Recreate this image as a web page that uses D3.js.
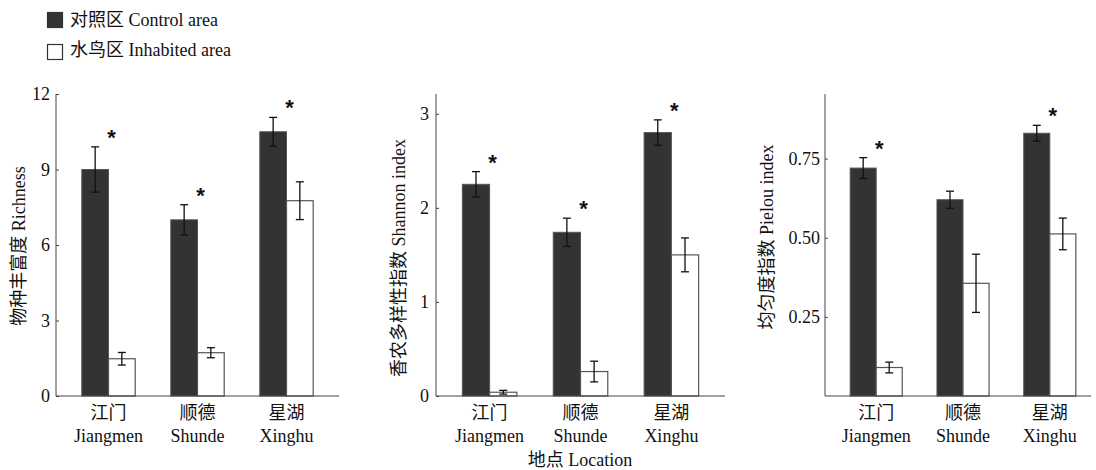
<!DOCTYPE html>
<html>
<head>
<meta charset="utf-8">
<script src="https://cdn.jsdelivr.net/npm/d3@7"></script>
<style>
  body { margin: 0; background: #fff; }
  svg text { font-family: "Liberation Serif", "Noto Sans CJK SC", serif; fill: #111; }
</style>
</head>
<body>
<svg id="chart" width="1096" height="470"></svg>
<script>
// sites
var sitesZh = ["江门", "顺德", "星湖"];
var sitesEn = ["Jiangmen", "Shunde", "Xinghu"];

// richness
var richControl = [9.0, 7.0, 10.5];
var richControlErr = [0.9, 0.6, 0.57];
var richInhab = [1.48, 1.72, 7.76];
var richInhabErr = [0.25, 0.2, 0.75];
var richSig = [true, true, true];
var richTicks = [0, 3, 6, 9, 12];

// shannon
var shanControl = [2.25, 1.74, 2.8];
var shanControlErr = [0.135, 0.15, 0.135];
var shanInhab = [0.04, 0.26, 1.5];
var shanInhabErr = [0.02, 0.11, 0.18];
var shanSig = [true, true, true];
var shanTicks = [0, 1, 2, 3];

// pielou
var pielControl = [0.72, 0.62, 0.83];
var pielControlErr = [0.033, 0.027, 0.025];
var pielInhab = [0.09, 0.356, 0.512];
var pielInhabErr = [0.017, 0.092, 0.05];
var pielSig = [true, false, true];
var pielTicks = [0.25, 0.5, 0.75];

var legendLabels = ["对照区 Control area", "水鸟区 Inhabited area"];
var xTitle = "地点 Location";

var DARK = "#323432";
var FS = 18;
var plotTop = 94, plotBottom = 396;

var panels = [
  {ctl: richControl, ctlErr: richControlErr, inh: richInhab, inhErr: richInhabErr, sig: richSig,
   ticks: richTicks, fmt: d3.format("d"), yMax: 12, x0: 56, x1: 339, xEnd: 339,
   title: "物种丰富度 Richness", titleX: 19, titleY: 246, pad: 6},
  {ctl: shanControl, ctlErr: shanControlErr, inh: shanInhab, inhErr: shanInhabErr, sig: shanSig,
   ticks: shanTicks, fmt: d3.format("d"), yMax: 3.21, x0: 436, x1: 725, xEnd: 725,
   title: "香农多样性指数 Shannon index", titleX: 399, titleY: 258, pad: 7},
  {ctl: pielControl, ctlErr: pielControlErr, inh: pielInhab, inhErr: pielInhabErr, sig: pielSig,
   ticks: pielTicks, fmt: d3.format(".2f"), yMax: 0.954, x0: 825, x1: 1101, xEnd: 1091,
   title: "均匀度指数 Pielou index", titleX: 767, titleY: 237, pad: 5}
];

var svg = d3.select("#chart");

panels.forEach(function(p) {
  var g = svg.append("g");
  var x = d3.scaleBand().domain(sitesEn).range([p.x0, p.x1])
      .paddingInner(0.4).paddingOuter(0.29);
  var y = d3.scaleLinear().domain([0, p.yMax]).range([plotBottom, plotTop]);
  var bw = x.bandwidth() / 2;

  var rows = sitesEn.map(function(s, i) {
    return {site: s, ctl: p.ctl[i], ctlErr: p.ctlErr[i], inh: p.inh[i], inhErr: p.inhErr[i], sig: p.sig[i]};
  });

  // bars
  var grp = g.selectAll("g.site").data(rows).enter().append("g").attr("class", "site");
  grp.append("rect")
    .attr("x", function(d) { return x(d.site); })
    .attr("y", function(d) { return y(d.ctl); })
    .attr("width", bw)
    .attr("height", function(d) { return plotBottom - y(d.ctl); })
    .attr("fill", DARK).attr("stroke", "#555").attr("stroke-width", 1);
  grp.append("rect")
    .attr("x", function(d) { return x(d.site) + bw; })
    .attr("y", function(d) { return y(d.inh); })
    .attr("width", bw)
    .attr("height", function(d) { return plotBottom - y(d.inh); })
    .attr("fill", "#fff").attr("stroke", "#555").attr("stroke-width", 1.2);

  // error bars
  function errbar(cx, v, e) {
    var eg = g.append("g").attr("stroke", "#111").attr("stroke-width", 1.3);
    eg.append("line").attr("x1", cx).attr("x2", cx).attr("y1", y(v + e)).attr("y2", y(v - e));
    eg.append("line").attr("x1", cx - 4).attr("x2", cx + 4).attr("y1", y(v + e)).attr("y2", y(v + e));
    eg.append("line").attr("x1", cx - 4).attr("x2", cx + 4).attr("y1", y(v - e)).attr("y2", y(v - e));
  }
  rows.forEach(function(d) {
    errbar(x(d.site) + bw / 2, d.ctl, d.ctlErr);
    errbar(x(d.site) + bw * 1.5, d.inh, d.inhErr);
    if (d.sig) {
      g.append("text")
        .attr("x", x(d.site) + bw + 3)
        .attr("y", y(d.ctl + d.ctlErr) - 2)
        .attr("text-anchor", "middle")
        .attr("font-size", 22).attr("font-weight", "bold")
        .style("font-family", "'Liberation Sans', sans-serif")
        .text("*");
    }
  });

  // y axis
  var ya = g.append("g").attr("transform", "translate(" + p.x0 + ",0)")
    .call(d3.axisLeft(y).tickValues(p.ticks).tickFormat(p.fmt).tickSizeInner(-3).tickSizeOuter(0).tickPadding(p.pad));
  ya.select(".domain").attr("stroke", "#444").attr("d", "M0," + plotBottom + "V" + plotTop);
  ya.selectAll(".tick line").attr("stroke", "#444");
  ya.selectAll("text").attr("font-size", FS).style("font-family", "'Liberation Serif', serif").attr("fill", "#111");

  // x axis
  var xa = g.append("g").attr("transform", "translate(0," + plotBottom + ")")
    .call(d3.axisBottom(x).tickSize(0).tickFormat(""));
  xa.select(".domain").attr("stroke", "#444").attr("d", "M" + p.x0 + ",0H" + p.xEnd);

  sitesEn.forEach(function(s, i) {
    var cx = x(s) + x.bandwidth() / 2;
    g.append("text").attr("x", cx).attr("y", 419).attr("text-anchor", "middle")
      .attr("font-size", FS).text(sitesZh[i]);
    g.append("text").attr("x", cx).attr("y", 442).attr("text-anchor", "middle")
      .attr("font-size", FS).text(s);
  });

  // y title
  g.append("text")
    .attr("transform", "translate(" + p.titleX + "," + p.titleY + ") rotate(-90)")
    .attr("text-anchor", "middle").attr("dy", "0.35em")
    .attr("font-size", FS).text(p.title);
});

svg.append("text").attr("x", 580).attr("y", 466).attr("text-anchor", "middle")
  .attr("font-size", FS).text(xTitle);

// legend
var leg = svg.append("g");
legendLabels.forEach(function(t, i) {
  leg.append("rect").attr("x", 47.5).attr("y", 12.5 + i * 32).attr("width", 15).attr("height", 15)
    .attr("fill", i === 0 ? DARK : "#fff").attr("stroke", "#333").attr("stroke-width", 1.2);
  leg.append("text").attr("x", 70).attr("y", 26 + i * 30).attr("font-size", FS).text(t);
});
</script>
</body>
</html>
